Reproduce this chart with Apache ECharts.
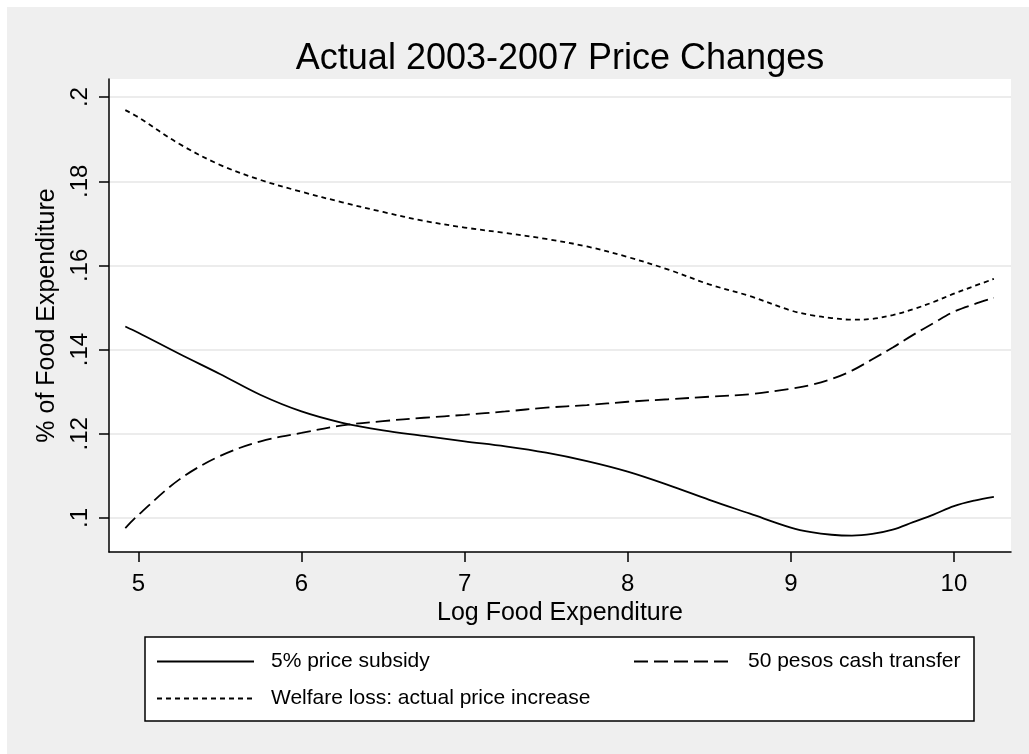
<!DOCTYPE html>
<html>
<head>
<meta charset="utf-8">
<script src="https://cdn.jsdelivr.net/npm/echarts@6/dist/echarts.min.js"></script>
<style>
  html, body { margin: 0; padding: 0; background: #ffffff; overflow: hidden; }
  #chart { position: absolute; left: 0; top: 0; width: 1029px; height: 754px; }
  .edge { position: absolute; background: #ffffff; z-index: 5; }
</style>
</head>
<body>
<div id="chart"></div>
<div class="edge" style="left:0;top:0;width:1029px;height:7px;"></div>
<div class="edge" style="left:0;top:0;width:7px;height:754px;"></div>
<script>
// Log food expenditure (x) and the three welfare curves (share of food expenditure)
const logExpenditure = [4.92, 5.0, 5.25, 5.5, 5.75, 6.0, 6.25, 6.5, 6.75, 7.0, 7.25, 7.5, 7.75,
  8.0, 8.25, 8.5, 8.75, 9.0, 9.125, 9.25, 9.375, 9.5, 9.625, 9.75, 9.875, 10.0, 10.125, 10.245];
const priceSubsidy = [0.1455, 0.1440, 0.1390, 0.1342, 0.1292, 0.1253, 0.1226, 0.1208, 0.1195,
  0.1182, 0.1170, 0.1155, 0.1135, 0.1110, 0.1078, 0.1043, 0.1010, 0.0977, 0.0966, 0.0960,
  0.0958, 0.0962, 0.0972, 0.0990, 0.1008, 0.1028, 0.1041, 0.1050];
const cashTransfer = [0.0976, 0.1007, 0.1091, 0.1147, 0.1182, 0.1202, 0.1220, 0.1230, 0.1238,
  0.1245, 0.1253, 0.1262, 0.1268, 0.1276, 0.1282, 0.1288, 0.1294, 0.1307, 0.1316, 0.1330,
  0.1350, 0.1377, 0.1405, 0.1435, 0.1463, 0.1490, 0.1508, 0.1523];
const welfareLoss = [0.1969, 0.1952, 0.1889, 0.1839, 0.1803, 0.1775, 0.1750, 0.1727, 0.1706,
  0.1690, 0.1677, 0.1663, 0.1645, 0.1620, 0.1590, 0.1555, 0.1527, 0.1493, 0.1482, 0.1475,
  0.1471, 0.1473, 0.1482, 0.1496, 0.1513, 0.1533, 0.1551, 0.1568];

const seriesNames = ['5% price subsidy', '50 pesos cash transfer', 'Welfare loss: actual price increase'];
const xTicks = [5, 6, 7, 8, 9, 10];
const yTicks = [0.1, 0.12, 0.14, 0.16, 0.18, 0.2];
const yTickLabels = ['.1', '.12', '.14', '.16', '.18', '.2'];

const FONT = 'Liberation Sans, Arial, Helvetica, sans-serif';
const pairs = ys => logExpenditure.map((x, i) => [x, ys[i]]);

const chart = echarts.init(document.getElementById('chart'), null, { renderer: 'canvas' });

// legend keys show only the line pattern, no marker
const legendCommon = {
  orient: 'horizontal',
  padding: 0,
  itemWidth: 97,
  itemHeight: 22,
  selectedMode: false,
  itemStyle: { opacity: 0 },
  textStyle: { fontFamily: FONT, fontSize: 21, color: '#000', padding: [0, 0, 0, 12] }
};

chart.setOption({
  animation: false,
  backgroundColor: '#efefef',
  title: {
    text: 'Actual 2003-2007 Price Changes',
    left: 560,
    textAlign: 'center',
    top: 41,
    padding: 0,
    textStyle: { fontFamily: FONT, fontSize: 36, fontWeight: 'normal', color: '#000' }
  },
  grid: {
    left: 109, top: 79, right: 18, bottom: 202,
    show: true, backgroundColor: '#ffffff', borderWidth: 0,
    containLabel: false
  },
  xAxis: {
    type: 'value',
    min: 4.82, max: 10.35,
    name: 'Log Food Expenditure',
    nameLocation: 'middle',
    nameGap: 43,
    nameTextStyle: { fontFamily: FONT, fontSize: 25, color: '#000' },
    axisLine: { show: true, onZero: false, lineStyle: { color: '#000', width: 1.5 } },
    axisTick: { show: true, inside: false, length: 10, customValues: xTicks,
      lineStyle: { color: '#000', width: 1.5 } },
    axisLabel: { customValues: xTicks, margin: 20, fontFamily: FONT, fontSize: 24, color: '#000' },
    splitLine: { show: false }
  },
  yAxis: {
    type: 'value',
    min: 0.0919, max: 0.2043,
    name: '% of Food Expenditure',
    nameLocation: 'middle',
    nameGap: 44,
    nameTextStyle: { fontFamily: FONT, fontSize: 25, color: '#000' },
    axisLine: { show: true, onZero: false, lineStyle: { color: '#000', width: 1.5 } },
    axisTick: { show: true, inside: false, length: 10, customValues: yTicks,
      lineStyle: { color: '#000', width: 1.5 } },
    axisLabel: {
      customValues: yTicks, rotate: 90, margin: 17,
      fontFamily: FONT, fontSize: 24, color: '#000',
      formatter: v => {
        const i = yTicks.findIndex(t => Math.abs(t - v) < 1e-9);
        return i >= 0 ? yTickLabels[i] : '';
      }
    },
    splitLine: { show: true, lineStyle: { color: '#e6e6e6', width: 1.5 } }
  },
  legend: [
    Object.assign({ data: [seriesNames[0]], left: 156, top: 651 }, legendCommon),
    Object.assign({ data: [seriesNames[1]], left: 633, top: 651 }, legendCommon),
    Object.assign({ data: [seriesNames[2]], left: 156, top: 688 }, legendCommon)
  ],
  graphic: [{
    type: 'rect',
    z: -1,
    shape: { x: 145, y: 637, width: 829, height: 84 },
    style: { fill: '#ffffff', stroke: '#000000', lineWidth: 1.5 }
  }],
  series: [
    {
      name: seriesNames[0], type: 'line', data: pairs(priceSubsidy),
      smooth: 0.35, symbol: 'none', color: '#000',
      lineStyle: { color: '#000', width: 1.8, type: 'solid' }
    },
    {
      name: seriesNames[1], type: 'line', data: pairs(cashTransfer),
      smooth: 0.35, symbol: 'none', color: '#000',
      lineStyle: { color: '#000', width: 1.8, type: [14, 6] }
    },
    {
      name: seriesNames[2], type: 'line', data: pairs(welfareLoss),
      smooth: 0.35, symbol: 'none', color: '#000',
      lineStyle: { color: '#000', width: 1.8, type: [5, 4] }
    }
  ]
});
</script>
</body>
</html>
